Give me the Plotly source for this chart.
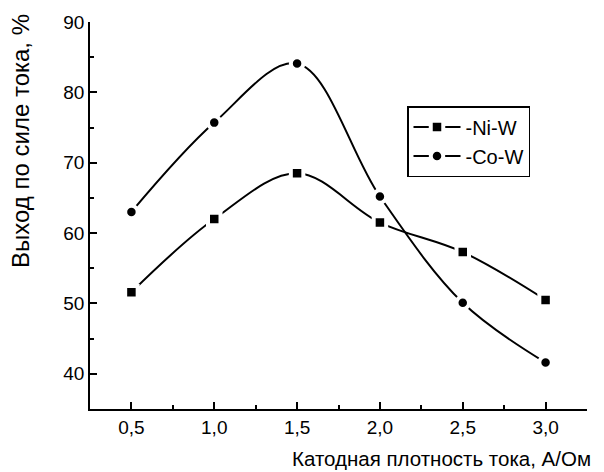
import plotly.graph_objects as go

x_vals = [0.5, 1.0, 1.5, 2.0, 2.5, 3.0]
ni_w = [51.6, 62.0, 68.5, 61.5, 57.3, 50.5]
co_w = [63.0, 75.7, 84.1, 65.2, 50.1, 41.6]
series_names = ["-Ni-W", "-Co-W"]
x_ticks = [0.5, 1.0, 1.5, 2.0, 2.5, 3.0]
y_ticks = [40, 50, 60, 70, 80, 90]

FONT = "Arial, Liberation Sans, sans-serif"

fig = go.Figure()
for name, vals, sym in [(series_names[0], ni_w, "square"), (series_names[1], co_w, "circle")]:
    fig.add_trace(go.Scatter(
        x=x_vals, y=vals, name=name, mode="lines+markers",
        line=dict(color="black", width=2, shape="spline", smoothing=1),
        marker=dict(symbol=sym, size=12.5, color="black",
                    line=dict(color="white", width=4)),
    ))

axis_common = dict(
    showline=True, linecolor="black", linewidth=1.5, mirror=False,
    showgrid=False, zeroline=False, ticks="inside", ticklen=7, tickwidth=1.5,
    tickcolor="black", tickfont=dict(family=FONT, size=19, color="black"),
)

fig.update_layout(
    width=604, height=472,
    margin=dict(l=90, r=17, t=22, b=63),
    paper_bgcolor="white", plot_bgcolor="white",
    separators=",.",
    font=dict(family=FONT, size=19, color="black"),
    xaxis=dict(range=[0.25, 3.25], tickvals=x_ticks, tickformat=".1f",
               minor=dict(ticks="inside", ticklen=4, dtick=0.25, tick0=0.25,
                          tickcolor="black", tickwidth=1.5),
               **axis_common),
    yaxis=dict(range=[35, 90], tickvals=y_ticks,
               minor=dict(ticks="inside", ticklen=4, dtick=5, tick0=35,
                          tickcolor="black", tickwidth=1.5),
               **axis_common),
    legend=dict(x=(407 - 90) / 497, y=(409 - 106) / 387, xref="paper", yref="paper",
                xanchor="left", yanchor="top",
                bordercolor="black", borderwidth=1.5, bgcolor="white",
                font=dict(family=FONT, size=20, color="black"),
                itemwidth=47, tracegroupgap=0),
    showlegend=True,
)

fig.add_annotation(text="Выход по силе тока, %", textangle=-90,
                   xref="paper", yref="paper", x=(20 - 90) / 497, y=(409 - 141) / 387,
                   showarrow=False, font=dict(family=FONT, size=24, color="black"),
                   xanchor="center", yanchor="middle")
fig.add_annotation(text="Катодная плотность тока, А/Ом",
                   xref="paper", yref="paper", x=(593 - 90) / 497, y=-(458 - 409) / 387,
                   showarrow=False, font=dict(family=FONT, size=20.5, color="black"),
                   xanchor="right", yanchor="middle")

fig.write_html("out.html")
